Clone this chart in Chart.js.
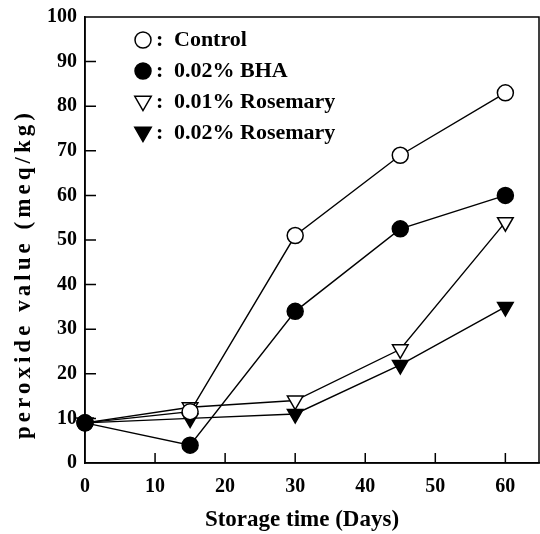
<!DOCTYPE html>
<html>
<head>
<meta charset="utf-8">
<script src="https://cdn.jsdelivr.net/npm/chart.js@4/dist/chart.umd.min.js"></script>
<style>
html,body{margin:0;padding:0;background:#fff;}
#wrap{width:540px;height:534px;}
</style>
</head>
<body>
<div id="wrap"><canvas id="c" width="540" height="534"></canvas></div>
<script>
const days = [0, 15, 30, 45, 60];
const control = [9, 11.5, 51, 69, 83];
const bha = [9, 4, 34, 52.5, 60];
const rosemary01 = [9, 12.5, 14, 25.5, 54];
const rosemary02 = [9, 10, 11, 22, 35];
const xTicks = [0, 10, 20, 30, 40, 50, 60];
const yTicks = [0, 10, 20, 30, 40, 50, 60, 70, 80, 90, 100];
const seriesNames = ['Control', '0.02% BHA', '0.01% Rosemary', '0.02% Rosemary'];
const xTitle = 'Storage time (Days)';
const yTitle = 'peroxide value (meq/kg)';

const SERIF = "'Liberation Serif', 'DejaVu Serif', serif";
const toXY = arr => arr.map((v, i) => ({x: days[i], y: v}));

function ds(label, data, style, fill, radius, rotation, order) {
  return {
    label, data: toXY(data), order,
    borderColor: '#000', borderWidth: 1.4,
    pointStyle: style, pointRadius: radius, pointHoverRadius: radius,
    pointRotation: rotation, pointBackgroundColor: fill,
    pointBorderColor: '#000', pointBorderWidth: 1.5,
    tension: 0, clip: false
  };
}

const datasets = [
  ds(seriesNames[0], control, 'circle', '#fff', 8, 0, 1),
  ds(seriesNames[1], bha, 'circle', '#000', 8, 0, 0),
  ds(seriesNames[2], rosemary01, 'triangle', '#fff', 9, 180, 3),
  ds(seriesNames[3], rosemary02, 'triangle', '#000', 9, 180, 2)
];

const framePlugin = {
  id: 'frame',
  beforeDatasetsDraw(chart) {
    const {ctx, chartArea: a, scales: {x, y}} = chart;
    ctx.save();
    ctx.strokeStyle = '#000';
    ctx.lineWidth = 1.5;
    ctx.strokeRect(a.left, a.top, a.right - a.left, a.bottom - a.top);
    ctx.beginPath();
    xTicks.forEach(v => {
      if (v === 0) return;
      const px = x.getPixelForValue(v);
      ctx.moveTo(px, a.bottom); ctx.lineTo(px, a.bottom - 10);
    });
    yTicks.forEach(v => {
      if (v === 0 || v === 100) return;
      const py = y.getPixelForValue(v);
      ctx.moveTo(a.left, py); ctx.lineTo(a.left + 11, py);
    });
    ctx.stroke();
    ctx.restore();
  },
  afterDraw(chart) {
    const {ctx} = chart;
    ctx.save();
    ctx.fillStyle = '#000';
    // axis titles
    ctx.font = 'bold 23px ' + SERIF;
    ctx.textAlign = 'center';
    ctx.textBaseline = 'middle';
    ctx.fillText(xTitle, 302, 520);

    ctx.save();
    ctx.translate(24, 276);
    ctx.rotate(-Math.PI / 2);
    ctx.font = 'bold 23px ' + SERIF;
    const natural = ctx.measureText(yTitle).width;
    const target = 326;
    const sp = Math.max(0, (target - natural) / (yTitle.length - 1));
    if ('letterSpacing' in ctx) {
      ctx.letterSpacing = sp.toFixed(2) + 'px';
      ctx.textAlign = 'left';
      ctx.fillText(yTitle, -target / 2, 0);
    } else {
      ctx.fillText(yTitle, 0, 0);
    }
    ctx.restore();

    // legend
    const rows = [40, 71, 102, 133];
    ctx.font = 'bold 22px ' + SERIF;
    ctx.textAlign = 'left';
    ctx.textBaseline = 'middle';
    chart.data.datasets.forEach((d, i) => {
      const yy = rows[i];
      ctx.fillStyle = d.pointBackgroundColor;
      ctx.strokeStyle = '#000';
      ctx.lineWidth = 1.5;
      Chart.helpers.drawPoint(ctx, {
        pointStyle: d.pointStyle, radius: d.pointStyle === 'circle' ? 8 : 9.5,
        rotation: d.pointRotation, borderWidth: 1.5
      }, 143, d.pointStyle === 'circle' ? yy : yy - 1);
      ctx.fillStyle = '#000';
      ctx.fillText(':', 156, yy);
      ctx.fillText(d.label, 174, yy);
    });
    ctx.restore();
  }
};

new Chart(document.getElementById('c'), {
  type: 'line',
  data: {datasets},
  options: {
    responsive: false,
    animation: false,
    events: [],
    layout: {autoPadding: false, padding: {top: 17, right: 1, left: 0, bottom: 0}},
    plugins: {legend: {display: false}, tooltip: {enabled: false}},
    scales: {
      x: {
        type: 'linear', min: 0, max: 64.8,
        afterBuildTicks: s => { s.ticks = xTicks.map(v => ({value: v})); },
        afterFit: s => { s.height = 71; s.paddingLeft = 0; s.paddingRight = 0; },
        grid: {display: false, drawTicks: false},
        border: {display: true, color: '#000', width: 1.5},
        ticks: {color: '#000', padding: 12, maxRotation: 0, autoSkip: false,
                font: {family: SERIF, size: 20, weight: 'bold'}}
      },
      y: {
        type: 'linear', min: 0, max: 100,
        afterBuildTicks: s => { s.ticks = yTicks.map(v => ({value: v})); },
        afterFit: s => { s.width = 85; s.paddingTop = 0; s.paddingBottom = 0; },
        grid: {display: false, drawTicks: false},
        border: {display: true, color: '#000', width: 1.5},
        ticks: {color: '#000', padding: 8, autoSkip: false,
                font: {family: SERIF, size: 20, weight: 'bold'}}
      }
    }
  },
  plugins: [framePlugin]
});
</script>
</body>
</html>
